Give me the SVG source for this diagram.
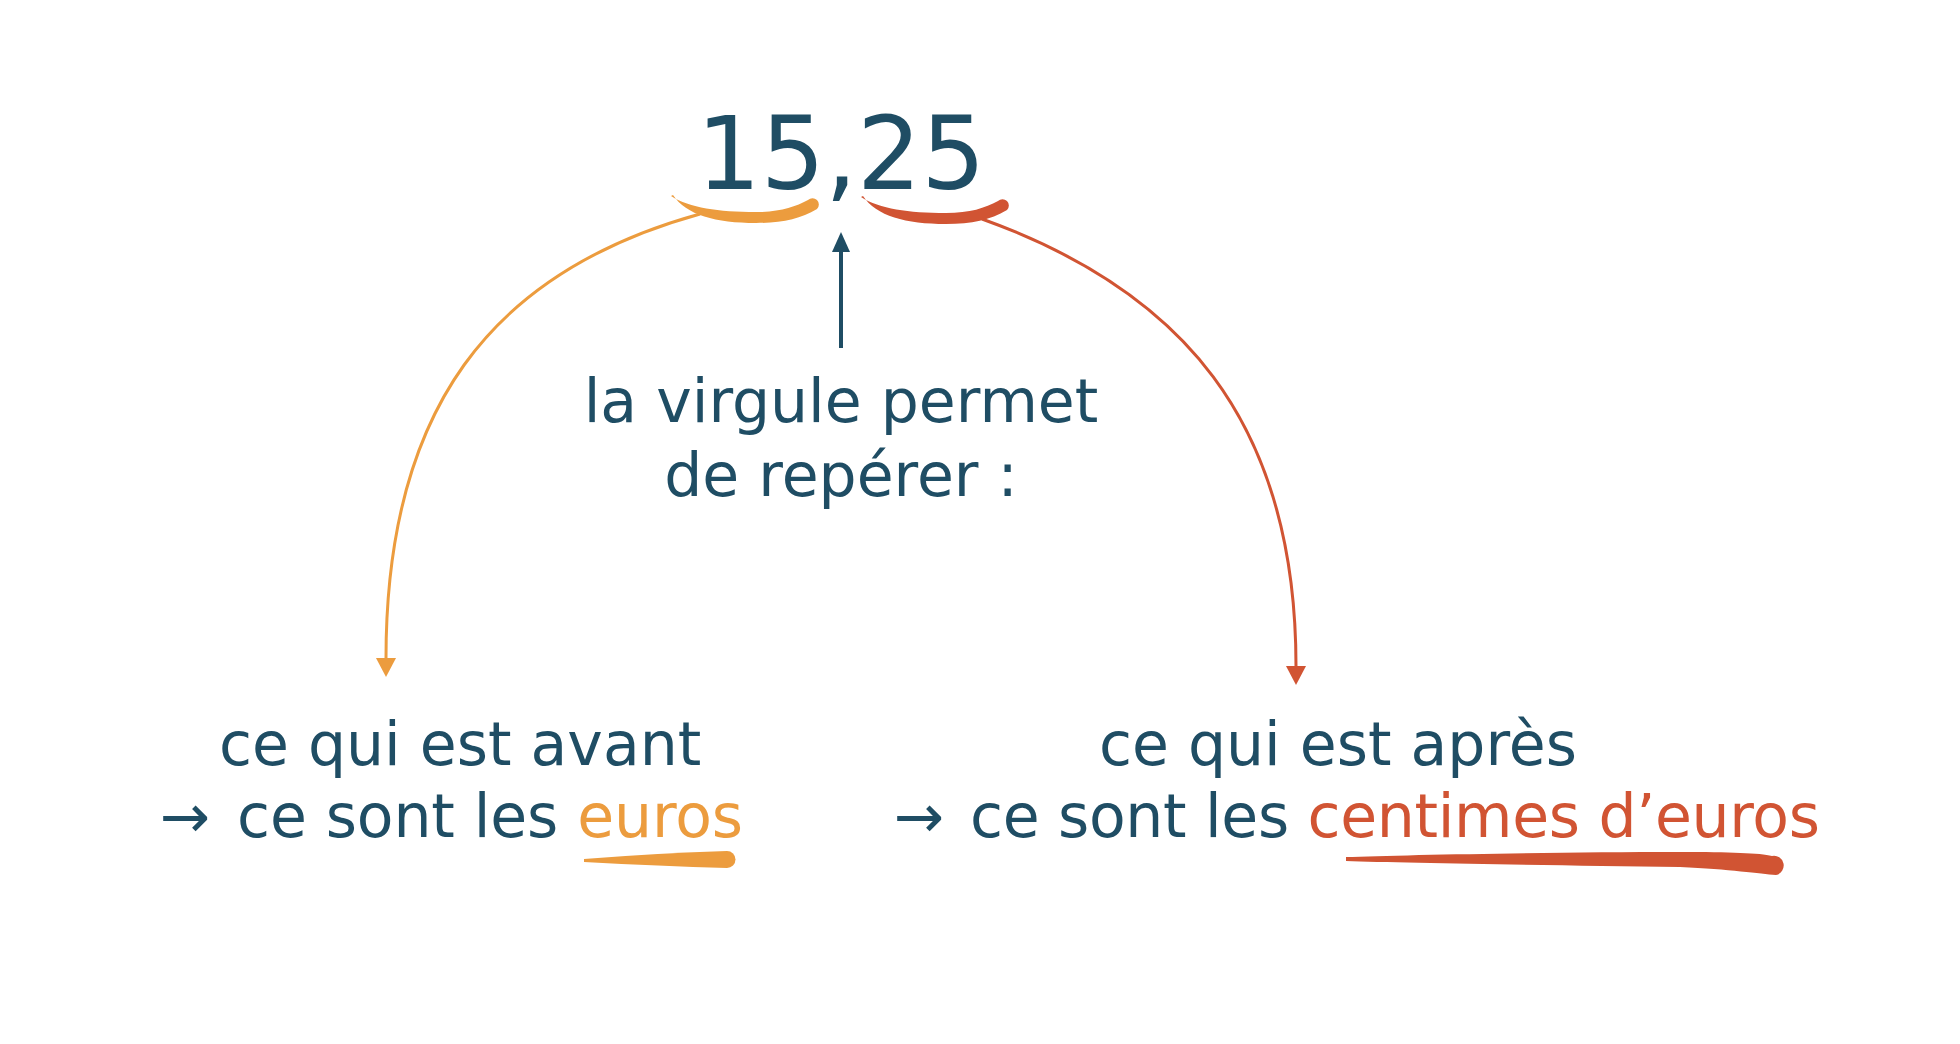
<svg xmlns="http://www.w3.org/2000/svg" xmlns:xlink="http://www.w3.org/1999/xlink" width="1960" height="1044" viewBox="0 0 1960 1044">
  <style>
    text { font-family: "DejaVu Sans", Verdana, sans-serif; fill: #1f4d64; }
    .big { font-size: 101px; }
    .lbl { font-size: 60px; }
    .or { fill: #ec9c3e; }
    .rd { fill: #d15433; }
    .conn { fill: none; stroke-width: 3; }
  </style>
  <defs>
    <marker id="arrOrange" markerUnits="userSpaceOnUse" viewBox="0 0 20 20" markerWidth="20" markerHeight="20" refX="0" refY="10" orient="auto">
      <path d="M0,0 L19,10 L0,20 Z" fill="#ec9c3e"/>
    </marker>
    <marker id="arrRed" markerUnits="userSpaceOnUse" viewBox="0 0 20 20" markerWidth="20" markerHeight="20" refX="0" refY="10" orient="auto">
      <path d="M0,0 L19,10 L0,20 Z" fill="#d15433"/>
    </marker>
    <marker id="arrBlue" markerUnits="userSpaceOnUse" viewBox="0 0 20 18" markerWidth="20" markerHeight="18" refX="0" refY="9" orient="auto">
      <path d="M0,0 L20,9 L0,18 Z" fill="#1f4d64"/>
    </marker>
    <path id="brace" d="M 671,196 C 690,208 718,212 756,212 C 780,212 795,207 808,200 A 5.5,5.5 0 0 1 817,209 C 800,219 782,223 756,223 C 716,223 686,215 673,195 Z"/>
  </defs>

  <rect width="1960" height="1044" fill="#ffffff"/>

  <g id="number">
    <text class="big" x="841" y="189" text-anchor="middle">15,25</text>
    <use xlink:href="#brace" href="#brace" fill="#ec9c3e"/>
    <use xlink:href="#brace" href="#brace" fill="#d15433" transform="translate(190,1)"/>
  </g>

  <g id="connectors">
    <path class="conn" stroke="#ec9c3e" d="M 700,214 C 490,272 386,410 386,658" marker-end="url(#arrOrange)"/>
    <path class="conn" stroke="#d15433" d="M 982,219 C 1180,290 1296,420 1296,666" marker-end="url(#arrRed)"/>
    <path fill="none" stroke="#1f4d64" stroke-width="4" d="M 841,348 L 841,252" marker-end="url(#arrBlue)"/>
  </g>

  <g id="comma-label">
    <text class="lbl" x="841" y="422" text-anchor="middle">la virgule permet</text>
    <text class="lbl" x="841" y="496" text-anchor="middle">de repérer :</text>
  </g>

  <g id="before">
    <text class="lbl" x="219" y="765">ce qui est avant</text>
    <text class="lbl" x="160" y="837">→</text>
    <text class="lbl" x="237" y="837" textLength="506" lengthAdjust="spacing">ce sont les <tspan class="or">euros</tspan></text>
    <path fill="#ec9c3e" d="M 584,859 Q 660,853 727,851 A 8.5,8.5 0 0 1 727,868 Q 660,866 584,862 Z"/>
  </g>

  <g id="after">
    <text class="lbl" x="1099" y="765">ce qui est après</text>
    <text class="lbl" x="894" y="837">→</text>
    <text class="lbl" x="970" y="837" textLength="850" lengthAdjust="spacing">ce sont les <tspan class="rd">centimes d’euros</tspan></text>
    <path fill="#d15433" d="M 1346,857 C 1400,855 1550,852 1680,852 C 1730,852 1760,853 1772,856 A 9.5,9.5 0 0 1 1776,875 C 1760,874 1730,869 1680,867 C 1550,865 1400,863 1346,861 Z"/>
  </g>
</svg>
